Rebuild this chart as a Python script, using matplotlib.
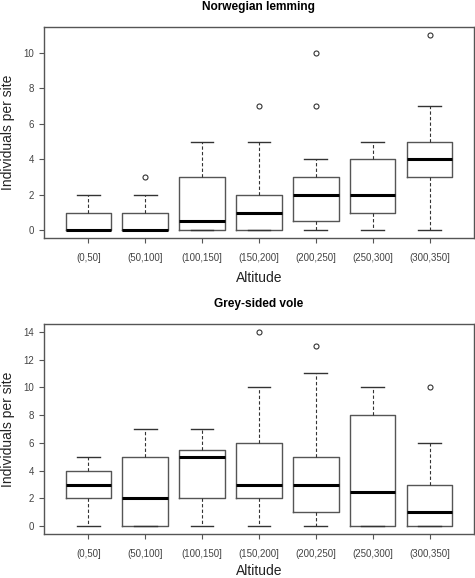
"""
Boxplots of individuals per site by altitude band for two rodent species.

Outputs: out.png
"""

import matplotlib
matplotlib.use("Agg")
import matplotlib.pyplot as plt

plt.rcParams["font.family"] = ["Liberation Sans", "DejaVu Sans"]

# ── Data (five-number summaries) ───────────────────────────────────────
altitude_bands = ["(0,50]", "(50,100]", "(100,150]", "(150,200]",
                  "(200,250]", "(250,300]", "(300,350]"]

lemming_low = [0, 0, 0, 0, 0, 0, 0]
lemming_q1 = [0, 0, 0, 0, 0.5, 1, 3]
lemming_med = [0, 0, 0.5, 1, 2, 2, 4]
lemming_q3 = [1, 1, 3, 2, 3, 4, 5]
lemming_high = [2, 2, 5, 5, 4, 5, 7]
lemming_out = [[], [3], [], [7], [7, 10], [], [11]]

vole_low = [0, 0, 0, 0, 0, 0, 0]
vole_q1 = [2, 0, 2, 2, 1, 0, 0]
vole_med = [3, 2, 5, 3, 3, 2.5, 1]
vole_q3 = [4, 5, 5.5, 6, 5, 8, 3]
vole_high = [5, 7, 7, 10, 11, 10, 6]
vole_out = [[], [], [], [14], [13], [], [10]]

panels = [
    ("Norwegian lemming", lemming_low, lemming_q1, lemming_med, lemming_q3,
     lemming_high, lemming_out, [0, 2, 4, 6, 8, 10], (-0.44, 11.44), 6),
    ("Grey-sided vole", vole_low, vole_q1, vole_med, vole_q3,
     vole_high, vole_out, [0, 2, 4, 6, 8, 10, 12, 14], (-0.56, 14.56), 4),
]

frame_col = "#555555"
text_col = "#444444"

fig = plt.figure(figsize=(4.75, 5.78), dpi=100)
rects = [[0.0926, 0.588, 0.905, 0.365], [0.0926, 0.0761, 0.905, 0.3633]]

for rect, (title, lo, q1, med, q3, hi, outl, yticks, ylim, xpad) in zip(rects, panels):
    ax = fig.add_axes(rect)
    stats = []
    for i, lab in enumerate(altitude_bands):
        stats.append(dict(label=lab, whislo=lo[i], q1=q1[i], med=med[i],
                          q3=q3[i], whishi=hi[i], fliers=outl[i]))
    ax.bxp(stats, positions=range(1, len(stats) + 1), widths=0.8,
           boxprops=dict(color=frame_col, linewidth=1.0),
           medianprops=dict(color="black", linewidth=2.2, solid_capstyle="butt"),
           whiskerprops=dict(color="#333333", linewidth=0.8, linestyle=(0, (3, 2))),
           capprops=dict(color="#333333", linewidth=1.0),
           capwidths=0.4,
           flierprops=dict(marker="o", markersize=3.6, markerfacecolor="none",
                           markeredgecolor="#333333", markeredgewidth=0.8))

    ax.set_xlim(0.22, 7.78)
    ax.set_ylim(*ylim)
    ax.set_yticks(yticks)
    ax.set_yticklabels([str(t) for t in yticks])
    for s in ax.spines.values():
        s.set_color(frame_col)
        s.set_linewidth(1.0)
    ax.tick_params(colors=frame_col, labelcolor=text_col, labelsize=7,
                   length=3.6, width=0.8)
    ax.tick_params(axis="x", pad=7)
    ax.set_title(title, fontsize=8.6, fontweight="bold", pad=12)
    ax.set_xlabel("Altitude", fontsize=10, color="#222222", labelpad=xpad)
    ax.set_ylabel("Individuals per site", fontsize=10, color="#222222", labelpad=6)

fig.savefig("out.png", dpi=100)
